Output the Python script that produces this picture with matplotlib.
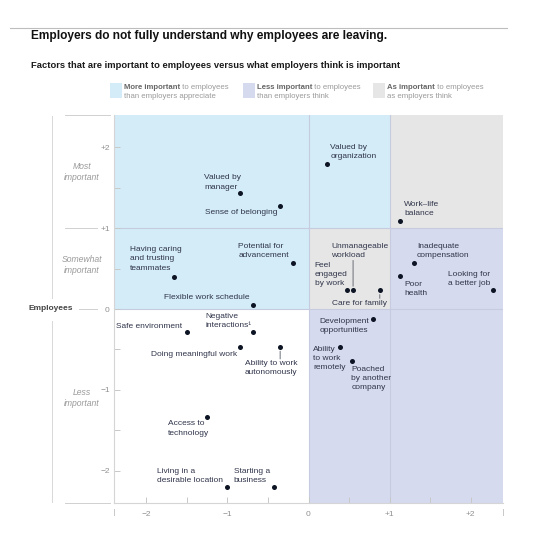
import matplotlib
matplotlib.use('Agg')
import matplotlib.pyplot as plt
from matplotlib.patches import Rectangle

plt.rcParams['font.family'] = ['Liberation Sans', 'DejaVu Sans']

# ---------------- data ----------------
factors = [
    "Valued by\nmanager", "Sense of belonging", "Potential for\nadvancement",
    "Having caring\nand trusting\nteammates", "Flexible work schedule",
    "Valued by\norganization", "Work\u2013life\nbalance", "Inadequate\ncompensation",
    "Poor\nhealth", "Looking for\na better job", "Feel\nengaged\nby work",
    "Unmanageable\nworkload", "Care for family", "Development\nopportunities",
    "Ability\nto work\nremotely", "Poached\nby another\ncompany", "Safe environment",
    "Negative\ninteractions\u00b9", "Doing meaningful work",
    "Ability to work\nautonomously", "Access to\ntechnology",
    "Living in a\ndesirable location", "Starting a\nbusiness",
]
employers = [-0.84, -0.35, -0.19, -1.66, -0.68,
             0.23, 1.13, 1.30, 1.13, 2.28, 0.47,
             0.55, 0.88, 0.80, 0.39, 0.54, -1.50,
             -0.68, -0.84, -0.35, -1.25, -1.00, -0.43]
employees = [1.44, 1.27, 0.57, 0.40, 0.05,
             1.79, 1.09, 0.57, 0.41, 0.23, 0.23,
             0.23, 0.23, -0.12, -0.47, -0.64, -0.29,
             -0.29, -0.47, -0.47, -1.34, -2.20, -2.20]

tick_values = [-2, -1, 0, 1, 2]
tick_labels = ["\u22122", "\u22121", "0", "+1", "+2"]

# ---------------- layout / style ----------------
W, H = 542, 550
blue = '#d3ecf8'
lav = '#d6daef'
grey = '#e6e6e6'
divider = '#c6cbe0'
txt = '#30354a'
lim = 2.4

# label placement: (dx px, dy px, ha, va, ma)
place = [
    (-36, 2, 'left', 'bottom', 'left'),
    (-3, -6, 'right', 'center', 'left'),
    (-4, 4, 'right', 'bottom', 'left'),
    (-44, 5, 'left', 'bottom', 'left'),
    (-4, 7, 'right', 'center', 'left'),
    (3, 4, 'left', 'bottom', 'left'),
    (4, 4, 'left', 'bottom', 'left'),
    (3, 4, 'left', 'bottom', 'left'),
    (4, -5, 'left', 'top', 'left'),
    (-3, 3, 'right', 'bottom', 'left'),
    (-32, 3, 'left', 'bottom', 'left'),
    (-22, 31, 'left', 'bottom', 'left'),
    (7, -13, 'right', 'center', 'left'),
    (-4, 1, 'right', 'top', 'left'),
    (-27, 1, 'left', 'top', 'left'),
    (-1, -5, 'left', 'top', 'left'),
    (-5, 6, 'right', 'center', 'left'),
    (-48, 3, 'left', 'bottom', 'left'),
    (-3, -8, 'right', 'center', 'left'),
    (17, -13, 'right', 'top', 'left'),
    (-39, -3, 'left', 'top', 'left'),
    (-4, 3, 'right', 'bottom', 'left'),
    (-4, 3, 'right', 'bottom', 'left'),
]
leaders = {11: 30, 12: -8, 19: -12}


def fp(x, y):
    return x / W, 1 - y / H


fig = plt.figure(figsize=(W / 100, H / 100), dpi=100)
ax = fig.add_axes([114 / W, (H - 503) / H, 389 / W, 388 / H])
ax.set_xlim(-lim, lim)
ax.set_ylim(-lim, lim)

# regions
regions = [
    (-lim, 0, 0, lim, blue), (0, 1, 1, lim, blue),
    (1, lim, 1, lim, grey), (0, 1, 0, 1, grey),
    (1, lim, 0, 1, lav), (0, lim, -lim, 0, lav),
]
for x0, x1, y0, y1, c in regions:
    ax.add_patch(Rectangle((x0, y0), x1 - x0, y1 - y0, facecolor=c,
                           edgecolor='none', zorder=0))
for v in [0, 1]:
    ax.plot([v, v], [-lim, lim], color=divider, lw=0.8, zorder=1)
    ax.plot([-lim, lim], [v, v], color=divider, lw=0.8, zorder=1)

for s in ['top', 'right']:
    ax.spines[s].set_visible(False)
for s in ['left', 'bottom']:
    ax.spines[s].set_color('#d5d5d5')
    ax.spines[s].set_linewidth(0.8)

ax.set_xticks(tick_values)
ax.set_xticklabels(tick_labels)
ax.set_yticks(tick_values)
ax.set_yticklabels(tick_labels)
ax.set_xticks([-1.5, -0.5, 0.5, 1.5], minor=True)
ax.set_yticks([-1.5, -0.5, 0.5, 1.5], minor=True)
ax.tick_params(which='both', direction='in', length=4, width=0.7,
               color='#c8c8c8', labelsize=6, labelcolor='#909090')
ax.tick_params(axis='x', which='major', pad=6)
ax.tick_params(axis='y', which='major', pad=3)

# points
ax.scatter(employers, employees, s=13, color='#0d1424', zorder=5,
           linewidths=0)

for i, (lab, x, y) in enumerate(zip(factors, employers, employees)):
    dx, dy, ha, va, ma = place[i]
    ax.annotate(lab, (x, y), xytext=(dx, dy), textcoords='offset pixels',
                ha=ha, va=va, multialignment=ma, fontsize=6.0, color=txt,
                linespacing=1.45, zorder=6)
    if i in leaders:
        ax.annotate('', (x, y), xytext=(0, leaders[i]),
                    textcoords='offset pixels',
                    arrowprops=dict(arrowstyle='-', color='#555a66', lw=0.6,
                                    shrinkA=0, shrinkB=3))

# edge ticks below axis
for xa in [0, 1]:
    ax.plot([xa, xa], [-0.015, -0.032], transform=ax.transAxes,
            color='#c8c8c8', lw=0.7, clip_on=False)

# ---------------- figure decorations ----------------
fig.add_artist(plt.Line2D([10 / W, 507 / W], [1 - 28 / H, 1 - 28 / H],
                          color='#bdbdbd', lw=0.8))
fig.text(*fp(31, 39.5), "Employers do not fully understand why employees are leaving.",
         fontsize=8.55, fontweight='bold', color='#111111', va='baseline')
fig.text(*fp(31, 67.5),
         "Factors that are important to employees versus what employers think is important",
         fontsize=6.75, fontweight='bold', color='#1a1a1a', va='baseline')

legend = [
    (110, blue, "More important", " to employees", "than employers appreciate"),
    (243, lav, "Less important", " to employees", "than employers think"),
    (373, grey, "As important", " to employees", "as employers think"),
]
for x0, c, b, r, l2 in legend:
    fig.add_artist(Rectangle(fp(x0, 98), 12 / W, 15 / H, facecolor=c,
                             edgecolor='none', transform=fig.transFigure))
    t = fig.text(*fp(x0 + 14, 89), b, fontsize=5.6, fontweight='bold',
                 color='#666666', va='baseline')
    fig.canvas.draw()
    bb = t.get_window_extent()
    fig.text(bb.x1 / W, 1 - 89 / H, r, fontsize=5.6, color='#9a9a9a',
             va='baseline')
    fig.text(*fp(x0 + 14, 97.5), l2, fontsize=5.6, color='#9a9a9a', va='baseline')

# left side guides
for (xa, xb, y) in [(65, 110, 115), (65, 97, 228), (79, 97, 309), (65, 110, 503)]:
    fig.add_artist(plt.Line2D([xa / W, xb / W], [1 - y / H, 1 - y / H],
                              color='#d0d0d0', lw=0.7))
fig.add_artist(plt.Line2D([52 / W, 52 / W], [1 - 116 / H, 1 - 298 / H],
                          color='#d8d8d8', lw=0.7))
fig.add_artist(plt.Line2D([52 / W, 52 / W], [1 - 321 / H, 1 - 502 / H],
                          color='#d8d8d8', lw=0.7))
fig.text(*fp(73, 309), "Employees", fontsize=6, fontweight='bold',
         color='#444444', ha='right', va='center')

for lab, y in [("Most\nimportant", 172), ("Somewhat\nimportant", 265),
               ("Less\nimportant", 398)]:
    fig.text(*fp(82, y), lab, fontsize=6.2, style='italic', color='#9a9a9a',
             ha='center', va='center', linespacing=1.4)

fig.savefig('out.png', dpi=100)
